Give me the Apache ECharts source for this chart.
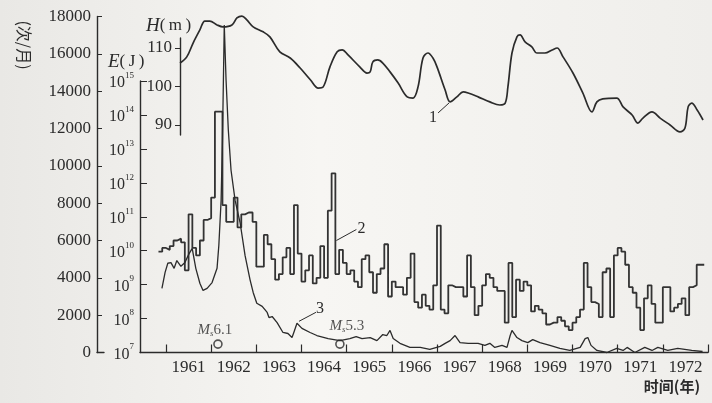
<!DOCTYPE html>
<html><head><meta charset="utf-8">
<script src="https://cdn.jsdelivr.net/npm/echarts@6/dist/echarts.min.js"></script>
<style>html,body{margin:0;padding:0;background:#f1f0ed}#c{width:712px;height:403px}</style>
</head><body><div id="c"></div>
<script>
// ---------- data ----------
const yearLabels = ['1961','1962','1963','1964','1965','1966','1967','1968','1969','1970','1971','1972'];
const freqTicks = [0,2000,4000,6000,8000,10000,12000,14000,16000,18000];
const energyTicks = [7,8,9,10,11,12,13,14,15];
const levelTicks = [90,100,110];

// curve 2: monthly earthquake frequency (次/月), first month Nov 1960
const freqStart = 1960 + 10/12;
const freqMonthly = [
 5400,5600,5500,5700,6000,6100,5900,4400,7400,5600,5200,6000,
 7100,7200,8300,12900,12900,7900,7000,7000,8300,6700,7400,7500,
 7500,7000,4600,4600,6300,5800,5000,3900,4200,5100,5600,4200,
 7900,5300,3800,4400,5200,3700,4000,5700,4000,7600,9600,4200,
 5500,4800,4200,4400,3800,3500,5000,5200,4300,3200,4200,4500,
 5800,3000,3800,3500,3500,3100,4000,5300,2700,2400,3100,2500,
 2300,3600,6800,2300,2100,3600,3500,3500,3500,3000,5200,3500,
 2000,2500,3600,4200,4000,3500,3300,3300,1600,4800,1900,3900,
 3300,3800,3600,2200,2500,2300,2100,1500,1600,1600,1900,1700,
 1400,1200,1600,1900,2300,4800,3500,2700,2600,1900,4300,4500,
 1900,5200,5600,5400,4700,3500,3200,2400,1200,2900,3600,2600,
 1600,1600,3500,3500,2200,2400,2600,2900,2000,3500,3600,4700,
 4700
];

// curve 3: energy, log10(E/J)
const energyYears = [1960.91,1960.98,1961.04,1961.11,1961.18,1961.24,1961.33,1961.42,1961.49,1961.58,1961.66,1961.75,1961.82,1961.91,1962.02,1962.13,1962.17,1962.22,1962.25,1962.29,1962.33,1962.38,1962.44,1962.53,1962.64,1962.75,1962.86,1962.93,1963.01,1963.13,1963.24,1963.28,1963.35,1963.46,1963.59,1963.70,1963.79,1963.83,1963.90,1964.01,1964.19,1964.34,1964.59,1964.85,1965.07,1965.21,1965.34,1965.52,1965.67,1965.80,1965.89,1965.96,1966.03,1966.18,1966.40,1966.63,1966.84,1967.07,1967.18,1967.29,1967.40,1967.51,1967.69,1967.91,1968.06,1968.17,1968.28,1968.44,1968.55,1968.62,1968.66,1968.77,1968.88,1969.01,1969.12,1969.28,1969.50,1969.72,1969.94,1970.17,1970.28,1970.34,1970.41,1970.54,1970.76,1970.98,1971.12,1971.21,1971.38,1971.60,1971.76,1971.89,1972.11,1972.33,1972.64,1972.88];
const energyExp = [8.89,9.36,9.63,9.65,9.48,9.71,9.54,9.65,9.86,10.07,9.48,9.04,8.83,8.89,9.06,9.48,10.16,11.48,13.25,16.65,15.02,13.55,12.37,11.48,10.83,9.86,9.15,8.77,8.45,8.36,8.18,8.03,8.06,7.88,7.59,7.56,7.44,7.59,7.86,7.71,7.59,7.50,7.41,7.35,7.41,7.47,7.41,7.44,7.35,7.53,7.50,7.65,7.41,7.27,7.15,7.15,7.09,7.18,7.27,7.35,7.50,7.29,7.27,7.27,7.21,7.27,7.15,7.21,7.15,7.50,7.65,7.44,7.35,7.29,7.38,7.29,7.21,7.12,7.06,7.15,7.41,7.44,7.21,7.06,7.00,7.12,7.06,7.15,7.00,7.15,7.06,7.15,7.06,7.12,7.06,7.03];

// curve 1: reservoir water level H (m)
const levelYears = [1961.31,1961.46,1961.60,1961.75,1961.86,1961.97,1962.13,1962.26,1962.46,1962.57,1962.68,1962.79,1962.93,1963.15,1963.30,1963.52,1963.75,1963.97,1964.20,1964.37,1964.48,1964.63,1964.79,1964.90,1965.03,1965.29,1965.45,1965.52,1965.58,1965.69,1965.80,1965.96,1966.14,1966.34,1966.47,1966.58,1966.69,1966.80,1966.91,1967.00,1967.18,1967.29,1967.44,1967.58,1967.69,1967.91,1968.17,1968.39,1968.51,1968.57,1968.66,1968.77,1968.84,1968.95,1969.10,1969.21,1969.39,1969.55,1969.66,1969.79,1970.01,1970.23,1970.43,1970.54,1970.67,1970.98,1971.12,1971.32,1971.45,1971.56,1971.76,1971.94,1972.16,1972.38,1972.49,1972.56,1972.64,1972.76,1972.89];
const levelH = [106.1,107.7,111.3,114.7,117.0,117.0,116.0,115.5,116.0,117.8,118.3,117.3,115.5,114.2,112.9,109.0,107.4,104.8,101.7,99.6,99.9,105.1,109.0,109.5,108.2,105.1,103.5,103.8,106.4,106.9,106.1,103.8,100.9,97.3,97.0,99.9,107.4,108.7,107.4,105.1,99.1,96.0,97.3,98.6,98.3,97.3,96.0,95.2,95.7,99.9,108.7,112.9,113.4,111.6,110.3,108.7,108.7,109.5,110.0,107.7,103.5,98.3,93.4,96.0,96.8,97.0,94.7,92.6,90.5,91.8,93.4,91.8,90.0,88.2,89.2,94.7,95.7,93.9,91.3];

// strong earthquakes
const quakeYears = [1962.15, 1964.85];
const quakeMag = ['6.1', '5.3'];

// ---------- chart ----------
const XMIN = 1961 - 312/542, XMAX = 1973;
const SERIF = "'Liberation Serif','DejaVu Serif',serif";
const CJK = "'Noto Sans CJK SC',sans-serif";
const INK = '#2b2b2b';
const sup = n => '{b|10}{s|' + n + '}';

const freqData = freqMonthly.map((v, i) => [freqStart + i / 12, v]);
freqData.push([freqStart + freqMonthly.length / 12, freqMonthly[freqMonthly.length - 1]]);
const energyData = energyYears.map((t, i) => [t, energyExp[i]]);
const levelData = levelYears.map((t, i) => [t, levelH[i]]);
const quakeData = quakeYears.map((t, i) => ({
  value: [t, 450],
  label: { formatter: '{m|M}{s|s}{n|' + quakeMag[i] + '}', offset: i === 0 ? [-3, 2] : [7, -2] }
}));

const hiddenX = (g) => ({ type: 'value', gridIndex: g, min: XMIN, max: XMAX, show: false });
const chart = echarts.init(document.getElementById('c'), null, { renderer: 'canvas' });
const axisLine = { show: true, lineStyle: { color: INK, width: 1.4 } };

chart.setOption({
  animation: false,
  backgroundColor: {
    type: 'linear', x: 0, y: 0, x2: 1, y2: 0,
    colorStops: [{ offset: 0, color: '#e9e8e5' }, { offset: 0.45, color: '#f7f6f3' }, { offset: 1, color: '#efeeeb' }]
  },
  grid: [
    { left: 97, width: 7, top: 16.5, height: 336 },
    { left: 140, right: 4, top: 16.5, height: 336 },
    { left: 140, right: 4, top: 81, height: 271.5 },
    { left: 140, right: 4, top: 38, height: 97 },
    { left: 166, right: 4, top: 16.5, height: 336 }
  ],
  xAxis: [
    { type: 'value', gridIndex: 0, min: 0, max: 1, axisLine: axisLine, axisTick: { show: false }, axisLabel: { show: false }, splitLine: { show: false } },
    { type: 'value', gridIndex: 1, min: XMIN, max: XMAX, axisLine: axisLine, axisTick: { show: false }, axisLabel: { show: false }, splitLine: { show: false } },
    hiddenX(2), hiddenX(3),
    { type: 'category', gridIndex: 4, data: yearLabels, boundaryGap: true,
      axisLine: { show: false },
      axisTick: { show: true, inside: true, length: 8, interval: 0, lineStyle: { color: INK, width: 1.2 } },
      axisLabel: { interval: 0, margin: 7, color: INK, fontFamily: SERIF, fontSize: 17 } }
  ],
  yAxis: [
    { type: 'value', gridIndex: 0, min: 0, max: 1, show: false },
    { type: 'value', gridIndex: 1, min: 0, max: 18000, interval: 2000, offset: 43,
      axisLine: axisLine, axisTick: { show: true, inside: true, length: 5, lineStyle: { color: INK } },
      axisLabel: { margin: 6, color: INK, fontFamily: SERIF, fontSize: 17, formatter: v => String(v) },
      splitLine: { show: false } },
    { type: 'value', gridIndex: 2, min: 7, max: 15, interval: 1,
      axisLine: axisLine, axisTick: { show: true, inside: true, length: 7, lineStyle: { color: INK } },
      axisLabel: { margin: 6, color: INK, formatter: v => sup(v),
        rich: { b: { fontFamily: SERIF, fontSize: 16, lineHeight: 20, verticalAlign: 'bottom', color: INK },
                s: { fontFamily: SERIF, fontSize: 9, lineHeight: 10, verticalAlign: 'top', color: INK } } },
      splitLine: { show: false } },
    { type: 'value', gridIndex: 3, min: 87.4, max: 112.6, offset: -40,
      axisLine: axisLine, axisTick: { show: true, length: 5, customValues: levelTicks, lineStyle: { color: INK } },
      axisLabel: { margin: 8, color: INK, fontFamily: SERIF, fontSize: 17, customValues: levelTicks },
      splitLine: { show: false } },
    { type: 'value', gridIndex: 4, min: 0, max: 1, show: false }
  ],
  series: [
    { name: '2', type: 'line', step: 'end', xAxisIndex: 1, yAxisIndex: 1, data: freqData,
      showSymbol: false, symbol: 'none', lineStyle: { color: '#333', width: 1.8 } },
    { name: '3', type: 'line', xAxisIndex: 2, yAxisIndex: 2, data: energyData, clip: false,
      showSymbol: false, symbol: 'none', lineStyle: { color: INK, width: 1.3 } },
    { name: '1', type: 'line', xAxisIndex: 3, yAxisIndex: 3, data: levelData, clip: false, smooth: 0.35,
      showSymbol: false, symbol: 'none', lineStyle: { color: INK, width: 1.7 } },
    { name: 'quakes', type: 'scatter', xAxisIndex: 1, yAxisIndex: 1, data: quakeData,
      symbol: 'circle', symbolSize: 8,
      itemStyle: { color: 'rgba(0,0,0,0)', borderColor: INK, borderWidth: 1.6 },
      label: { show: true, position: 'top', distance: 3,
        rich: { m: { fontFamily: SERIF, fontStyle: 'italic', fontSize: 15, lineHeight: 17, color: INK, verticalAlign: 'middle' },
                s: { fontFamily: SERIF, fontStyle: 'italic', fontSize: 9, lineHeight: 10, color: INK, verticalAlign: 'bottom' },
                n: { fontFamily: SERIF, fontSize: 15, lineHeight: 17, color: INK, verticalAlign: 'middle' } } } }
  ]
});

// annotations: titles and curve numbers with leader lines
const p1 = chart.convertToPixel({ seriesIndex: 2 }, [1967.29, 96.0]);
const p2 = chart.convertToPixel({ seriesIndex: 0 }, [freqStart + 47 / 12, 6000]);
const p3 = chart.convertToPixel({ seriesIndex: 1 }, [1963.90, 7.86]);
const numTxt = (t, p, dx, dy) => ({ type: 'text', x: p[0] + dx, y: p[1] + dy,
  style: { text: t, fontFamily: SERIF, fontSize: 16, fill: INK, align: 'center', verticalAlign: 'middle' } });
const lead = (p, dx1, dy1, dx2, dy2) => ({ type: 'line',
  shape: { x1: p[0] + dx1, y1: p[1] + dy1, x2: p[0] + dx2, y2: p[1] + dy2 },
  style: { stroke: INK, lineWidth: 1 } });

chart.setOption({
  graphic: [
    { type: 'text', x: 24, y: 45, rotation: -Math.PI / 2,
      style: { text: '(次/月)', fontFamily: CJK, fontSize: 16, fill: INK, align: 'center', verticalAlign: 'middle' } },
    { type: 'text', x: 146, y: 26,
      style: { text: '{i|H}(\u2009m\u2009)', fontFamily: SERIF, fontSize: 17, fill: INK, align: 'left', verticalAlign: 'middle',
        rich: { i: { fontFamily: SERIF, fontStyle: 'italic', fontSize: 19, fill: INK } } } },
    { type: 'text', x: 108, y: 62,
      style: { text: '{i|E}(\u2009J\u2009)', fontFamily: SERIF, fontSize: 17, fill: INK, align: 'left', verticalAlign: 'middle',
        rich: { i: { fontFamily: SERIF, fontStyle: 'italic', fontSize: 19, fill: INK } } } },
    { type: 'text', x: 672, y: 386,
      style: { text: '时间(年)', fontFamily: CJK, fontSize: 15, fontWeight: 'bold', fill: INK, align: 'center', verticalAlign: 'middle' } },
    numTxt('1', p1, -17, 16), lead(p1, -12, 11, -1, 1),
    numTxt('2', p2, 26, -12), lead(p2, 1, 0, 21, -11),
    numTxt('3', p3, 23, -15), lead(p3, 2, -2, 19, -11)
  ]
});
</script>
</body></html>
